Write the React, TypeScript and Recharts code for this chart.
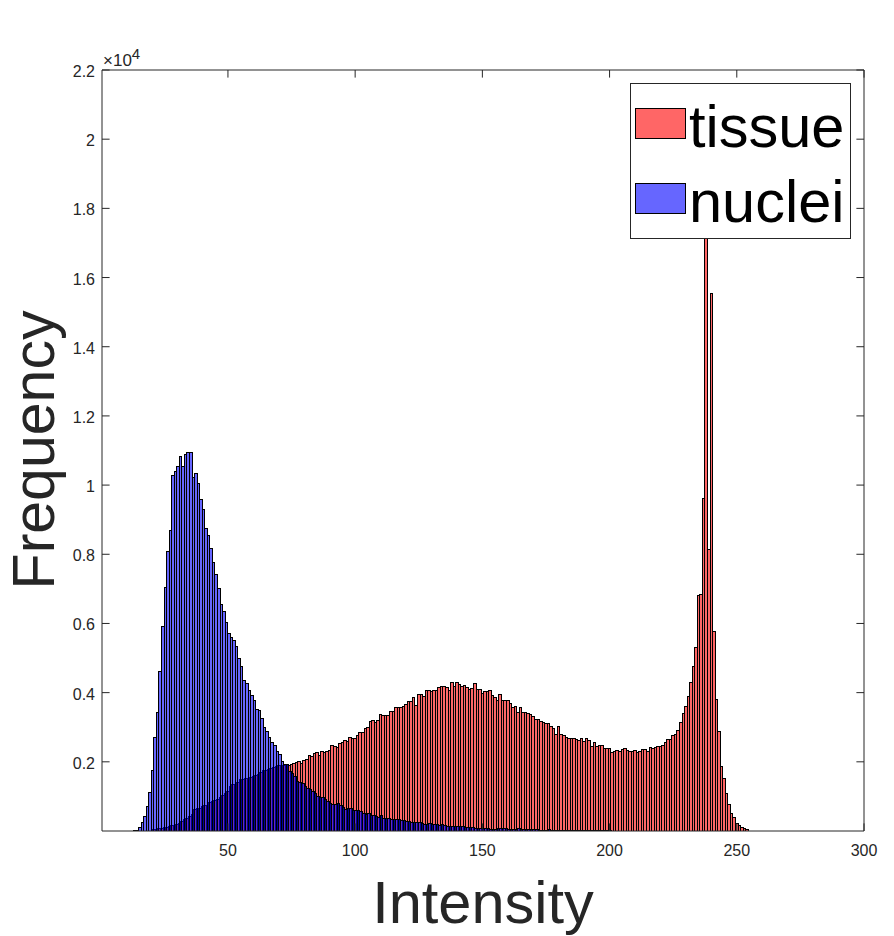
import React from "react"
import { Bar, ComposedChart, Label, Legend, XAxis, YAxis } from "recharts"

// histogram counts per intensity level
const tissueStart = 21
const tissueValues = [
  30, 40, 58, 70, 87, 110, 135, 145, 155, 190,
  225, 265, 330, 375, 430, 480, 635, 640, 645, 710,
  730, 750, 820, 850, 890, 920, 980, 1020, 1070, 1130,
  1300, 1330, 1350, 1400, 1490, 1500, 1505, 1510, 1550, 1580,
  1600, 1630, 1700, 1750, 1760, 1780, 1800, 1830, 1870, 1890,
  1900, 1906, 1890, 1885, 1916, 1950, 1984, 2003, 1955, 2032,
  2060, 2176, 2147, 2234, 2263, 2176, 2292, 2263, 2300, 2320,
  2465, 2450, 2417, 2540, 2562, 2610, 2590, 2696, 2680, 2677,
  2773, 2850, 2850, 2976, 2985, 3168, 3197, 3140, 3197, 3360,
  3332, 3330, 3332, 3457, 3457, 3563, 3563, 3565, 3602, 3670,
  3746, 3746, 3862, 3620, 3948, 3948, 3890, 4064, 4064, 4025,
  4060, 4064, 4140, 4180, 4180, 4150, 4064, 4295, 4180, 4295,
  4237, 4180, 4200, 4160, 4100, 4130, 4275, 4100, 4083, 3987,
  4025, 4035, 4064, 3920, 3862, 3775, 3948, 3775, 3775, 3775,
  3688, 3573, 3602, 3428, 3573, 3430, 3428, 3400, 3370, 3313,
  3236, 3226, 3180, 3140, 3120, 3100, 3024, 2966, 2793, 3033,
  2800, 2773, 2696, 2680, 2667, 2667, 2638, 2629, 2667, 2600,
  2667, 2610, 2455, 2552, 2436, 2465, 2465, 2398, 2378, 2378,
  2272, 2300, 2340, 2292, 2350, 2398, 2340, 2311, 2292, 2320,
  2272, 2292, 2350, 2350, 2292, 2407, 2378, 2420, 2450, 2450,
  2475, 2565, 2655, 2655, 2755, 2790, 2910, 3140, 3400, 3600,
  3900, 4300, 4760, 5310, 6820, 6840, 9600, 19500, 8150, 15550,
  5770, 3810, 2870, 1860, 1520, 1070, 776, 506, 380, 225,
  146, 90, 67, 34,
]

const nucleiStart = 13
const nucleiValues = [
  20, 20, 115, 260, 405, 720, 1100, 1760, 2715, 3440,
  4620, 5920, 7050, 8090, 8700, 10290, 10400, 10550, 10830, 10550,
  10890, 10950, 10950, 10230, 10340, 10050, 9590, 9300, 8750, 8550,
  8180, 7770, 7420, 7020, 6560, 6360, 6040, 5720, 5600, 5520,
  5320, 5000, 4770, 4360, 4250, 4070, 3930, 3760, 3520, 3470,
  3240, 3000, 2890, 2715, 2570, 2485, 2310, 2225, 2020, 1926,
  1926, 1714, 1676, 1580, 1445, 1406, 1367, 1300, 1233, 1194,
  1136, 1088, 1002, 982, 963, 924, 850, 790, 760, 770,
  790, 740, 693, 626, 664, 664, 597, 590, 587, 558,
  520, 481, 510, 462, 440, 414, 395, 443, 356, 360,
  366, 340, 327, 327, 320, 318, 300, 289, 270, 255,
  240, 250, 240, 215, 193, 200, 212, 190, 183, 175,
  173, 193, 154, 130, 125, 125, 125, 125, 125, 125,
  110, 96, 115, 90, 67, 67, 67, 70, 75, 77,
  40, 29, 40, 60, 67, 60, 58, 55, 50, 48,
  50, 58, 40, 29, 30, 35, 35, 38, 30, 25,
  15, 5, 15, 29, 25, 20, 20, 18, 19, 19,
  19, 19, 15, 12, 10, 10, 8, 8, 6, 6,
  5, 5, 4, 3, 3, 2, 2, 1,
]

const xTicks = [50, 100, 150, 200, 250, 300]
const yTicks = [2000, 4000, 6000, 8000, 10000, 12000, 14000, 16000, 18000, 20000, 22000]

// the nuclei bins sit a little to the right of the tissue bins
const nucleiBinShift = 0.4

const rows: { x: number; xNuclei: number; tissue: number | null; nuclei: number | null }[] = []
for (let x = nucleiStart; x < tissueStart + tissueValues.length; x++) {
  rows.push({
    x,
    xNuclei: x + nucleiBinShift,
    tissue: tissueValues[x - tissueStart] ?? null,
    nuclei: nucleiValues[x - nucleiStart] ?? null,
  })
}

const AXIS_COLOR = "#262626"
const FONT = "'Liberation Sans', Arial, sans-serif"
const TICK_LEN = 7.6

// matlab style: labels outside, tick marks pointing into the plot
const LeftTick = ({ x, y, payload }: any) => (
  <g>
    <line x1={x} y1={y} x2={x + TICK_LEN} y2={y} stroke={AXIS_COLOR} />
    <text x={x - 7} y={y + 7} textAnchor="end" fontSize={16} fontFamily={FONT} fill={AXIS_COLOR}>
      {payload.value / 10000}
    </text>
    {payload.value === 22000 && (
      <text x={x + 1} y={y - 4} fontSize={17} fontFamily={FONT} fill={AXIS_COLOR}>
        ×10
        <tspan fontSize={15} dy={-7}>4</tspan>
      </text>
    )}
  </g>
)

const BottomTick = ({ x, y, payload }: any) => (
  <g>
    <line x1={x} y1={y} x2={x} y2={y - TICK_LEN} stroke={AXIS_COLOR} />
    <text x={x} y={y + 25} textAnchor="middle" fontSize={16} fontFamily={FONT} fill={AXIS_COLOR}>
      {payload.value}
    </text>
  </g>
)

const TopTick = ({ x, y }: any) => <line x1={x} y1={y} x2={x} y2={y + TICK_LEN} stroke={AXIS_COLOR} />
const RightTick = ({ x, y }: any) => <line x1={x} y1={y} x2={x - TICK_LEN} y2={y} stroke={AXIS_COLOR} />

const legendItems = [
  { name: "tissue", color: "#ff6666", top: 25 },
  { name: "nuclei", color: "#6666ff", top: 100 },
]

const HistLegend = () => (
  <div style={{ position: "relative", width: 221, height: 156, boxSizing: "border-box", background: "#fff", border: `1px solid ${AXIS_COLOR}` }}>
    {legendItems.map((item) => (
      <React.Fragment key={item.name}>
        <div style={{ position: "absolute", left: 4, top: item.top - 1, width: 51, height: 31, boxSizing: "border-box", background: item.color, border: "1px solid #000" }} />
        <div style={{ position: "absolute", left: 58, top: item.top - 15, fontFamily: FONT, fontSize: 59.5, lineHeight: "66px", color: "#000" }}>
          {item.name}
        </div>
      </React.Fragment>
    ))}
  </div>
)

export default function App() {
  return (
    <div style={{ position: "absolute", left: 0, top: 0, width: 894, height: 936, background: "#fff" }}>
      <ComposedChart width={894} height={936} data={rows} margin={{ top: 0, right: 0, bottom: 0, left: 0 }}>
        <XAxis xAxisId="bottom" dataKey="x" type="number" domain={[0.5, 300]} ticks={xTicks} interval={0} height={105}
          allowDataOverflow stroke={AXIS_COLOR} tickLine={false} tickSize={0} tickMargin={0} tick={BottomTick}>
          <Label content={() => (
            <text x={483} y={923} textAnchor="middle" fontSize={59.5} fontFamily={FONT} fill={AXIS_COLOR}>Intensity</text>
          )} />
        </XAxis>
        <XAxis xAxisId="top" orientation="top" dataKey="xNuclei" type="number" domain={[0.5, 300]} ticks={xTicks} interval={0} height={70}
          allowDataOverflow stroke={AXIS_COLOR} tickLine={false} tickSize={0} tickMargin={0} tick={TopTick} />
        <YAxis yAxisId="left" type="number" domain={[0, 22000]} ticks={yTicks} interval={0} width={102}
          allowDataOverflow stroke={AXIS_COLOR} tickLine={false} tickSize={0} tickMargin={0} tick={LeftTick}>
          <Label content={() => (
            <text x={54} y={450} transform="rotate(-90 54 450)" textAnchor="middle" fontSize={59} fontFamily={FONT} fill={AXIS_COLOR}>Frequency</text>
          )} />
        </YAxis>
        <YAxis yAxisId="right" orientation="right" type="number" domain={[0, 22000]} ticks={yTicks} interval={0} width={30}
          allowDataOverflow stroke={AXIS_COLOR} tickLine={false} tickSize={0} tickMargin={0} tick={RightTick} />
        <Legend layout="vertical" align="center" verticalAlign="middle" content={HistLegend}
          wrapperStyle={{ left: 630, top: 83, width: 221, height: 156, margin: 0 }} />
        <Bar xAxisId="bottom" yAxisId="left" dataKey="tissue" name="tissue" barSize={2.544} fill="#ff0000" fillOpacity={0.6}
          stroke="#000" strokeWidth={1} shapeRendering="crispEdges" isAnimationActive={false} />
        <Bar xAxisId="top" yAxisId="right" dataKey="nuclei" name="nuclei" barSize={2.544} fill="#0000ff" fillOpacity={0.6}
          stroke="#000" strokeWidth={1} shapeRendering="crispEdges" isAnimationActive={false} />
      </ComposedChart>
    </div>
  )
}
